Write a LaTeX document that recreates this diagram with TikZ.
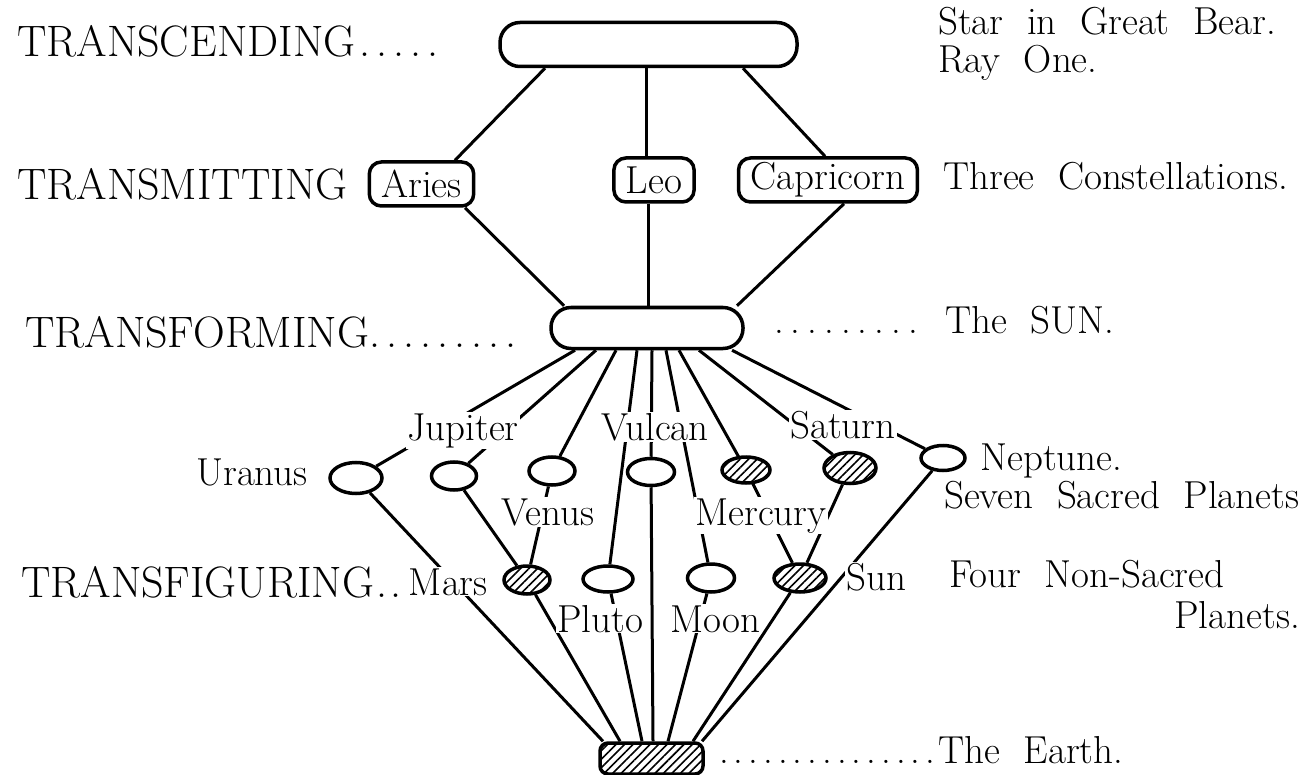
\documentclass[tikz,border=0pt]{standalone}
\usepackage{fontspec}
\usepackage{tikz}
\usetikzlibrary{positioning,shapes.geometric,patterns.meta}
\newcommand\CapFont{\fontsize{44}{48}\selectfont}
\newcommand\LabFont{\fontsize{39}{43}\selectfont\spaceskip=.6em plus .1em\relax}
\newcommand\Dot{.\hspace{6pt}}
\newcommand\Dit{.\hspace{5pt}}
\tikzset{
  bar/.style={
    draw,
    line width=3.5pt,
    rounded corners=20pt,
    minimum height=44pt
  },
  sign/.style={
    draw,
    line width=3.5pt,
    rounded corners=12pt,
    inner xsep=12pt,
    inner ysep=0pt,
    minimum height=44pt,
    font=\LabFont
  },
  orb/.style 2 args={
    shape = ellipse,
    draw,
    line width=3.5pt,
    inner sep=0pt,
    minimum width=#1,
    minimum height=#2
  },
  hatch/.style={
    pattern={Lines[angle=45,distance=6pt,line width=1.6pt]}
  },
  link/.style={
    line width=3pt
  },
  level/.style={
    anchor=base west,
    inner sep=0pt,
    font=\CapFont
  },
  note/.style={
    anchor=base west,
    inner sep=0pt,
    font=\LabFont
  },
  planet/.style={
    anchor=base west,
    inner sep=1pt,
    fill=white,
    font=\LabFont
  }
}

\begin{document}
\begin{tikzpicture}[x=1pt,y=-1pt]
    \useasboundingbox (0,0) rectangle (1305,775);

    \node[bar, minimum width=297pt] (bear) at (648.5,44.5) {};
    \node[sign] (aries) at (421.5,184) {Aries};
    \node[sign] (leo) at (654,180) {Leo};
    \node[sign] (capri) at (828,180) {Capricorn};
    \node[bar, minimum width=192pt, minimum height=41pt] (sun) at (647,328) {};

    \node[orb={52pt}{31pt}] (uranus) at (356,478) {};
    \node[orb={45pt}{28pt}] (jupiter) at (454,476) {};
    \node[orb={46pt}{28pt}] (venus) at (552,471) {};
    \node[orb={47pt}{27pt}] (vulcan) at (651,472) {};
    \node[orb={48pt}{26pt}, hatch] (mercury) at (746,470) {};
    \node[orb={52pt}{31pt}, hatch] (saturn) at (850,468) {};
    \node[orb={44pt}{25pt}] (neptune) at (943,458) {};

    \node[orb={46pt}{28pt}, hatch] (mars) at (527,580) {};
    \node[orb={50pt}{26pt}] (pluto) at (608,579) {};
    \node[orb={47pt}{28pt}] (moon) at (711,578) {};
    \node[orb={52pt}{28pt}, hatch] (sunp) at (800,578) {};

    \node[draw, line width=3.5pt, rounded corners=8pt, hatch, inner sep=0pt,
          minimum width=103pt, minimum height=31pt] (earth) at (651.5,758.5) {};

    \draw[link] ([xshift=-103.5]bear.south) -- ([xshift=33.5]aries.north);
    \draw[link] ([xshift=-2.5]bear.south) -- ([xshift=-8]leo.north);
    \draw[link] ([xshift=94.5]bear.south) -- ([xshift=-3]capri.north);
    \draw[link] ([xshift=43.5]aries.south) -- ([xshift=-83]sun.north);
    \draw[link] ([xshift=-6]leo.south) -- ([xshift=1]sun.north);
    \draw[link] ([xshift=16]capri.south) -- ([xshift=90]sun.north);

    \draw[link] ([xshift=-72]sun.south) -- (uranus);
    \draw[link] ([xshift=-51]sun.south) -- (jupiter);
    \draw[link] ([xshift=-31]sun.south) -- (venus);
    \draw[link] ([xshift=-10]sun.south) -- (pluto);
    \draw[link] ([xshift=5]sun.south) -- (vulcan);
    \draw[link] ([xshift=19]sun.south) -- (moon);
    \draw[link] ([xshift=32]sun.south) -- (mercury);
    \draw[link] ([xshift=52]sun.south) -- (saturn);
    \draw[link] ([xshift=85]sun.south) -- (neptune);

    \draw[link] (jupiter) -- (mars);
    \draw[link] (venus) -- (mars);
    \draw[link] (mercury) -- (sunp);
    \draw[link] (saturn) -- (sunp);
    \draw[link] (uranus) -- ([xshift=-48.5]earth.north);
    \draw[link] (mars) -- ([xshift=-31.5]earth.north);
    \draw[link] (pluto) -- ([xshift=-9.5]earth.north);
    \draw[link] (vulcan) -- ([xshift=1.5]earth.north);
    \draw[link] (moon) -- ([xshift=16.5]earth.north);
    \draw[link] (sunp) -- ([xshift=41.5]earth.north);
    \draw[link] (neptune) -- ([xshift=50.5]earth.north);

    \node[level] (transcending) at (17,57) {TRANSCENDING\hspace{4pt}\Dot\Dot\Dot\Dot.};
    \node[level] (transmitting) at (17,200) {TRANSMITTING};
    \node[level] (transforming) at (25,347) {TRANSFORMING\Dot\Dot\Dot\Dot\Dot\Dot\Dot\Dot.};
    \node[level] (transfiguring) at (21,597) {TRANSFIGURING\hspace{2pt}.\hspace{3pt}.};

    \node[note] (greatbear) at (938,35) {Star in Great Bear.};
    \node[note] (rayone) at (938,73) {Ray One.};
    \node[note] (three) at (943,190) {Three Constellations.};
    \node[note] (thesun) at (774,333) {.\hspace{7pt}.\hspace{7pt}.\hspace{7pt}.\hspace{7pt}.\hspace{7pt}.\hspace{7pt}.\hspace{7pt}.\hspace{7pt}. The SUN.};

    \node[planet, anchor=base east] (uranuslab) at (309,485) {Uranus};
    \node[planet, anchor=base] (jupiterlab) at (463,440) {Jupiter};
    \node[planet, anchor=base] (vulcanlab) at (655,440) {Vulcan};
    \node[planet, anchor=base] (saturnlab) at (843,438) {Saturn};
    \node[note] (neptunelab) at (980,470) {Neptune.};
    \node[planet, anchor=base] (venuslab) at (548,525) {Venus};
    \node[planet, anchor=base] (mercurylab) at (761,525) {Mercury};
    \node[note] (sacred) at (944,508) {Seven Sacred Planets};

    \node[planet, anchor=base east] (marslab) at (489,595) {Mars};
    \node[planet] (sunlab) at (845,590) {Sun};
    \node[note] (nonsacred) at (949,587) {Four Non-Sacred};
    \node[note, anchor=base east] (planetslab) at (1300,628) {Planets.};
    \node[planet, anchor=base] (plutolab) at (600,632) {Pluto};
    \node[planet, anchor=base] (moonlab) at (715,632) {Moon};

    \node[note] (theearth) at (719,763) {\Dit\Dit\Dit\Dit\Dit\Dit\Dit\Dit\Dit\Dit\Dit\Dit\Dit\Dit.\hspace{3pt}The Earth.};
\end{tikzpicture}
\end{document}
